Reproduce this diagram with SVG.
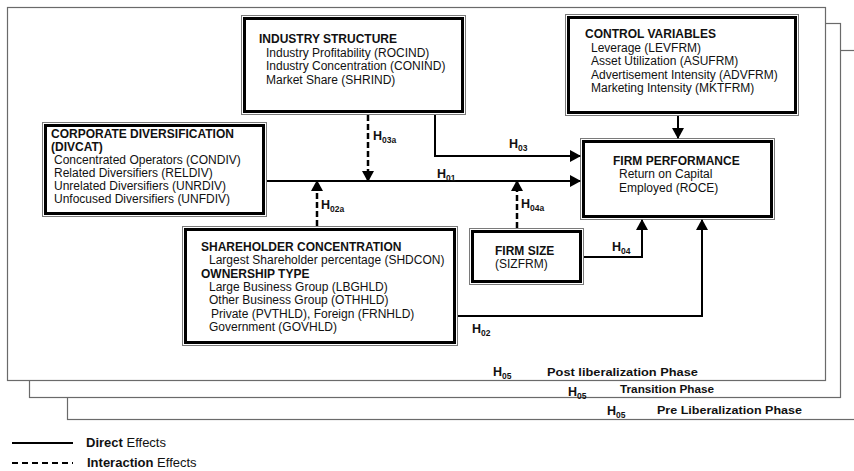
<svg xmlns="http://www.w3.org/2000/svg" width="854" height="471" viewBox="0 0 854 471">
<style>
text{font-family:"Liberation Sans",Arial,Helvetica,sans-serif;fill:#111;}
.t{font-size:12px;}
.b{font-size:12px;font-weight:bold;}
.frame{fill:#fff;stroke:#6a6a6a;stroke-width:1.2;}
.bo{fill:#fff;stroke:#7a7a7a;stroke-width:1;}
.bi{fill:none;stroke:#000;stroke-width:3;}
.solid{fill:none;stroke:#000;stroke-width:2;}
.dash{fill:none;stroke:#000;stroke-width:2.5;stroke-dasharray:6 3;}
.h{font-size:12.5px;font-weight:bold;}
.s{font-size:8.5px;font-weight:bold;}
.ph{font-size:10px;font-weight:bold;}
.lg{font-size:13px;}
</style>
<defs>
<marker id="ah" markerUnits="userSpaceOnUse" markerWidth="11" markerHeight="12" refX="10" refY="6" orient="auto">
<path d="M0,0 L11,6 L0,12 z" fill="#000"/>
</marker>
</defs>
<rect width="854" height="471" fill="#fff"/>
<g id="frames">
<rect class="frame" x="67.5" y="50.5" width="820" height="369"/>
<rect class="frame" x="29.5" y="23.5" width="811" height="374"/>
<rect class="frame" x="7.5" y="7.5" width="818" height="373"/>
</g>
<g id="industry">
<rect class="bo" x="241.5" y="15.5" width="224" height="99"/>
<rect class="bi" x="244.5" y="18.5" width="218" height="93"/>
<text class="b" x="259" y="43">INDUSTRY STRUCTURE</text>
<text class="t" x="266" y="57">Industry Profitability (ROCIND)</text>
<text class="t" x="266" y="70">Industry Concentration (CONIND)</text>
<text class="t" x="266" y="84">Market Share (SHRIND)</text>
</g>
<g id="control">
<rect class="bo" x="565.5" y="14.5" width="233" height="101"/>
<rect class="bi" x="568.5" y="17.5" width="227" height="95"/>
<text class="b" x="585" y="38">CONTROL VARIABLES</text>
<text class="t" x="591" y="52">Leverage (LEVFRM)</text>
<text class="t" x="591" y="65">Asset Utilization (ASUFRM)</text>
<text class="t" x="591" y="79">Advertisement Intensity (ADVFRM)</text>
<text class="t" x="591" y="92">Marketing Intensity (MKTFRM)</text>
</g>
<g id="performance">
<rect class="bo" x="580.5" y="138.5" width="194" height="81"/>
<rect class="bi" x="583.5" y="141.5" width="188" height="75"/>
<text class="b" x="613" y="165">FIRM PERFORMANCE</text>
<text class="t" x="619" y="178">Return on Capital</text>
<text class="t" x="619" y="192">Employed  (ROCE)</text>
</g>
<g id="diversification">
<rect class="bo" x="42.5" y="122.5" width="224" height="94"/>
<rect class="bi" x="45.5" y="125.5" width="218" height="88"/>
<text class="b" x="51" y="138">CORPORATE DIVERSIFICATION</text>
<text class="b" x="51" y="151">(DIVCAT)</text>
<text class="t" x="54" y="164">Concentrated Operators  (CONDIV)</text>
<text class="t" x="54" y="177">Related Diversifiers (RELDIV)</text>
<text class="t" x="54" y="190">Unrelated Diversifiers (UNRDIV)</text>
<text class="t" x="54" y="203">Unfocused  Diversifiers (UNFDIV)</text>
</g>
<g id="shareholder">
<rect class="bo" x="182.5" y="226.5" width="275" height="119"/>
<rect class="bi" x="185.5" y="229.5" width="269" height="113"/>
<text class="b" x="201" y="251">SHAREHOLDER CONCENTRATION</text>
<text class="t" x="209" y="264">Largest Shareholder  percentage (SHDCON)</text>
<text class="b" x="201" y="278">OWNERSHIP TYPE</text>
<text class="t" x="209" y="291">Large Business Group (LBGHLD)</text>
<text class="t" x="209" y="304">Other Business Group (OTHHLD)</text>
<text class="t" x="211" y="318">Private (PVTHLD), Foreign (FRNHLD)</text>
<text class="t" x="209" y="331">Government  (GOVHLD)</text>
</g>
<g id="firmsize">
<rect class="bo" x="469.5" y="228.5" width="114" height="56"/>
<rect class="bi" x="472.5" y="231.5" width="108" height="50"/>
<text class="b" x="495" y="255">FIRM SIZE</text>
<text class="t" x="495" y="268">(SIZFRM)</text>
</g>
<g id="connectors">
<path class="solid" d="M267,181 H580" marker-end="url(#ah)"/>
<path class="solid" d="M435,115 V156 H580" marker-end="url(#ah)"/>
<path class="solid" d="M678,116 V138" marker-end="url(#ah)"/>
<path class="solid" d="M584,257 H642 V220" marker-end="url(#ah)"/>
<path class="solid" d="M458,316 H702 V220" marker-end="url(#ah)"/>
<path class="dash" d="M368,115 V181" marker-end="url(#ah)"/>
<path class="dash" d="M317,226 V181" marker-end="url(#ah)"/>
<path class="dash" d="M517,228 V181" marker-end="url(#ah)"/>
</g>
<g id="labels">
<text class="h" x="373" y="140">H<tspan class="s" dy="2.5">03a</tspan></text>
<text class="h" x="509" y="148">H<tspan class="s" dy="2.5">03</tspan></text>
<text class="h" x="437" y="178">H<tspan class="s" dy="2.5">01</tspan></text>
<text class="h" x="321" y="209">H<tspan class="s" dy="2.5">02a</tspan></text>
<text class="h" x="521" y="208">H<tspan class="s" dy="2.5">04a</tspan></text>
<text class="h" x="612" y="251">H<tspan class="s" dy="2.5">04</tspan></text>
<text class="h" x="472" y="333">H<tspan class="s" dy="2.5">02</tspan></text>
</g>
<g id="phases">
<text class="h" x="493" y="376">H<tspan class="s" dy="2.5">05</tspan></text>
<text class="ph" x="547" y="376" textLength="151" lengthAdjust="spacingAndGlyphs">Post liberalization Phase</text>
<text class="h" x="568" y="396">H<tspan class="s" dy="2.5">05</tspan></text>
<text class="ph" x="620" y="393" textLength="94" lengthAdjust="spacingAndGlyphs">Transition Phase</text>
<text class="h" x="607" y="415">H<tspan class="s" dy="2.5">05</tspan></text>
<text class="ph" x="657" y="414" textLength="145" lengthAdjust="spacingAndGlyphs">Pre Liberalization Phase</text>
</g>
<g id="legend">
<line x1="12" y1="443" x2="73" y2="443" stroke="#000" stroke-width="2"/>
<line x1="12" y1="463" x2="73" y2="463" stroke="#000" stroke-width="2" stroke-dasharray="6 4"/>
<text class="lg" x="86" y="447"><tspan font-weight="bold">Direct</tspan> Effects</text>
<text class="lg" x="87" y="467"><tspan font-weight="bold">Interaction</tspan>  Effects</text>
</g>
</svg>
